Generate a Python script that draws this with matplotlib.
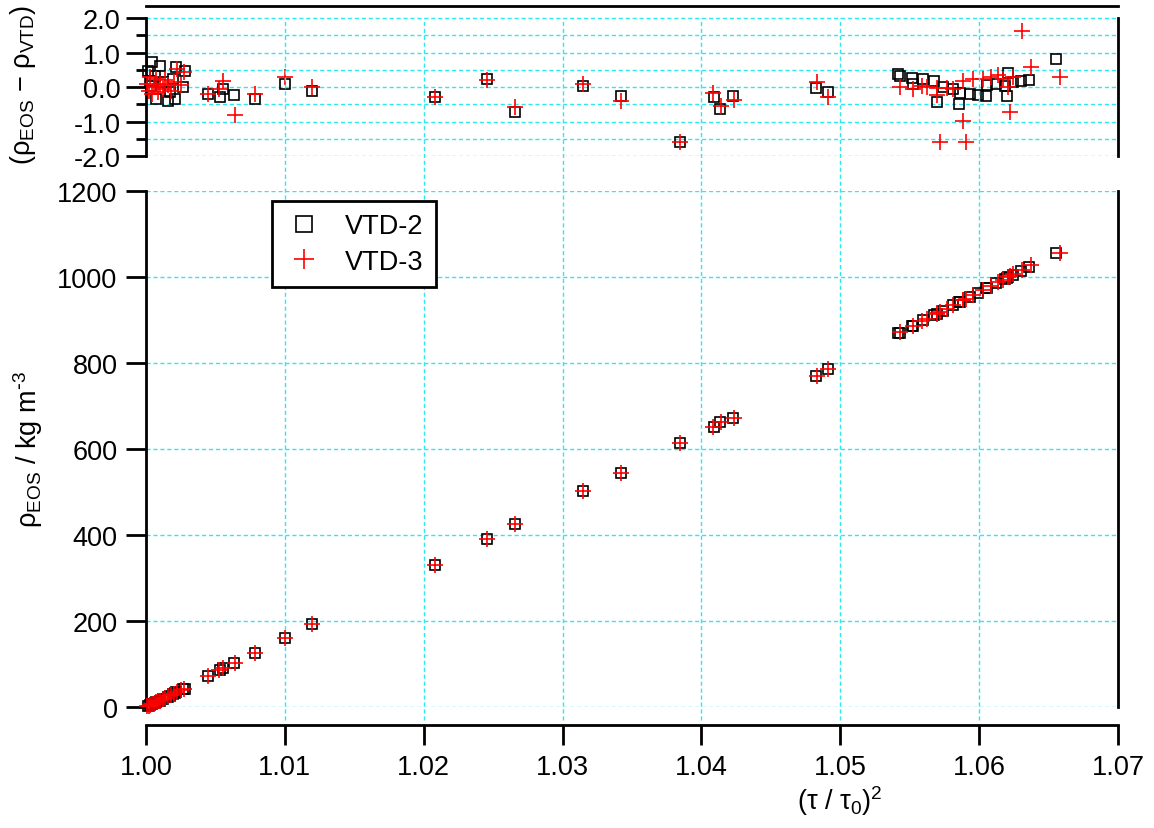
import numpy as np
import matplotlib.pyplot as plt
from matplotlib.lines import Line2D

plt.rcParams['font.family'] = ['Liberation Sans', 'DejaVu Sans']
plt.rcParams['mathtext.default'] = 'regular'
plt.rcParams['axes.unicode_minus'] = False

# VTD-2 (squares)
x2 = [1.00014, 1.00027, 1.00039, 1.00046, 1.00063, 1.00075, 1.00099, 1.00122, 1.00158, 1.00171,
      1.00194, 1.00207, 1.00219, 1.00266, 1.00279,
      1.00446, 1.00532, 1.00557, 1.00636, 1.00785, 1.01001, 1.01193, 1.02078, 1.02455, 1.02659,
      1.03149, 1.03421, 1.03845, 1.04088, 1.04135, 1.04226, 1.04827, 1.04908,
      1.05418, 1.05427, 1.05514, 1.05525, 1.05597, 1.05674, 1.05693, 1.05740, 1.05813, 1.05856,
      1.05860, 1.05932, 1.05992, 1.06052, 1.06060, 1.06124, 1.06184, 1.06200, 1.06208, 1.06243,
      1.06303, 1.06358, 1.06551]
rho2 = [2, 4, 6, 7, 10, 12, 15, 19, 24, 26, 30, 32, 34, 41, 43,
        72, 87, 91, 102, 126, 161, 192, 331, 391, 425, 503, 545, 615, 652, 662, 672, 770, 787,
        869, 870, 885, 887, 899, 911, 914, 922, 934, 941, 942, 954, 964, 974, 975, 986, 996, 998,
        1000, 1005, 1015, 1024, 1055]
res2 = [0.48, 0.19, 0.04, 0.72, 0.33, -0.34, 0.62, 0.14, -0.39, -0.15, 0.24, -0.34, 0.58, 0.00, 0.48,
        -0.20, -0.30, -0.05, -0.22, -0.34, 0.09, -0.10, -0.30, 0.24, -0.73, 0.03, -0.25, -1.59,
        -0.28, -0.64, -0.25, -0.02, -0.13,
        0.38, 0.32, 0.27, 0.09, 0.23, 0.19, -0.42, 0.00, -0.05, -0.49, -0.17, -0.20, -0.23, -0.25,
        0.06, 0.09, 0.04, -0.25, 0.41, 0.14, 0.19, 0.22, 0.82]

# VTD-3 (crosses)
x3 = [1.00010, 1.00020, 1.00030, 1.00040, 1.00055, 1.00070, 1.00085, 1.00100, 1.00120, 1.00140,
      1.00160, 1.00180, 1.00200, 1.00225, 1.00255, 1.00275,
      1.00446, 1.00525, 1.00557, 1.00640, 1.00785, 1.01003, 1.01193, 1.02080, 1.02457, 1.02661,
      1.03149, 1.03424, 1.03847, 1.04087, 1.04142, 1.04232, 1.04829, 1.04914,
      1.05430, 1.05525, 1.05585, 1.05621, 1.05693, 1.05700, 1.05717, 1.05765, 1.05813, 1.05884,
      1.05884, 1.05908, 1.05956, 1.06028, 1.06088, 1.06136, 1.06172, 1.06208, 1.06220, 1.06243,
      1.06310, 1.06374, 1.06580]
rho3 = [2, 3, 5, 6, 8, 11, 13, 15, 19, 22, 25, 28, 31, 35, 39, 42,
        72, 87, 91, 102, 126, 161, 192, 331, 391, 425, 503, 545, 615, 652, 662, 672, 770, 787,
        871, 887, 897, 903, 914, 916, 918, 926, 934, 946, 946, 950, 958, 970, 980, 988, 994, 1000,
        1002, 1006, 1017, 1027, 1055]
res3 = [0.10, -0.10, 0.30, -0.20, 0.00, 0.25, -0.15, 0.10, -0.05, 0.20, 0.05, -0.10, 0.15, 0.53,
        0.05, 0.45,
        -0.20, -0.05, 0.19, -0.81, -0.20, 0.29, 0.00, -0.29, 0.22, -0.59, 0.10, -0.39, -1.59,
        -0.17, -0.56, -0.37, 0.14, -0.30,
        0.00, -0.05, 0.02, 0.00, -0.03, -0.22, -1.60, -0.03, -0.05, 0.19, -0.97, -1.60, 0.24,
        0.24, 0.29, 0.34, 0.24, 0.00, -0.73, 0.29, 1.64, 0.58, 0.29]

xticks = [1.00, 1.01, 1.02, 1.03, 1.04, 1.05, 1.06, 1.07]

gridc = '#30e8f2'
fs = 19.5
lw = 2.0

fig = plt.figure(figsize=(11.54, 8.29), dpi=100)
axt = fig.add_axes([0.1265, 0.8106, 0.8423, 0.1810])
ax = fig.add_axes([0.1265, 0.14596, 0.8423, 0.6224])

sq = dict(marker='s', ms=7.5, mfc='none', mec='black', mew=1.2, ls='none', clip_on=False, zorder=3)
pl = dict(marker='+', ms=11, color='red', mew=1.2, ls='none', clip_on=False, zorder=4)

# residuals panel
axt.plot(x2, res2, **sq)
axt.plot(x3, res3, **pl)
axt.set_xlim(1.0, 1.07)
axt.set_ylim(-2.0, 2.357)
axt.set_yticks([-2, -1, 0, 1, 2])
axt.set_yticks([-1.5, -0.5, 0.5, 1.5], minor=True)
axt.set_yticklabels(['-2.0', '-1.0', '0.0', '1.0', '2.0'])
axt.set_xticks([])
for y in [-2, -1.5, -1, -0.5, 0, 0.5, 1, 1.5, 2]:
    axt.axhline(y, color=gridc, lw=1, ls=(0, (3, 2)), zorder=0)
axt.spines['bottom'].set_visible(False)
axt.spines['left'].set_bounds(-2, 2)
axt.spines['right'].set_bounds(-2, 2)
for s in axt.spines.values():
    s.set_linewidth(lw)
axt.tick_params(axis='y', which='major', direction='out', length=14.5, width=lw, labelsize=fs, pad=4)
axt.tick_params(axis='y', which='minor', direction='out', length=7.5, width=lw)
axt.set_ylabel(r'(ρ$_{EOS}$ − ρ$_{VTD}$)', fontsize=fs)
axt.yaxis.set_label_coords(-0.111, 0.48)

# main panel
ax.plot(x2, rho2, **sq)
ax.plot(x3, rho3, **pl)
ax.set_xlim(1.0, 1.07)
ax.set_ylim(0, 1200)
ax.set_xticks(xticks)
ax.set_xticklabels(['%.2f' % t for t in xticks])
ax.set_yticks(np.arange(0, 1201, 200))
for y in np.arange(0, 1201, 200):
    ax.axhline(y, color=gridc, lw=1, ls=(0, (3, 2)), zorder=0)
# vertical grid runs through both panels
ax.vlines(xticks[1:-1], -0.0246, 1.3345, transform=ax.get_xaxis_transform(),
          colors=gridc, lw=1, linestyles=(0, (3, 2)), clip_on=False, zorder=0)
ax.spines['top'].set_visible(False)
ax.spines['left'].set_bounds(0, 1200)
ax.spines['right'].set_bounds(0, 1200)
ax.spines['bottom'].set_position(('outward', 13))
for s in ax.spines.values():
    s.set_linewidth(lw)
ax.tick_params(direction='out', length=14.5, width=lw, labelsize=fs, pad=6)
ax.set_ylabel(r'ρ$_{EOS}$ / kg m$^{\text{-}3}$', fontsize=fs)
ax.yaxis.set_label_coords(-0.104, 0.5)
ax.set_xlabel(r'(τ / τ$_0$)$^2$', fontsize=fs)
ax.xaxis.set_label_coords(0.714, -0.147)

handles = [Line2D([], [], marker='s', ms=11, mfc='none', mec='black', mew=1.2, ls='none'),
           Line2D([], [], marker='+', ms=14, color='red', mew=1.2, ls='none')]
leg = ax.legend(handles, ['VTD-2', 'VTD-3'], loc='upper left', bbox_to_anchor=(0.1296, 0.9806),
                borderaxespad=0, fancybox=False, fontsize=fs, handlelength=1.5,
                handletextpad=0.75, borderpad=0.45, labelspacing=0.35, framealpha=1)
leg.get_frame().set_edgecolor('black')
leg.get_frame().set_linewidth(lw)

fig.savefig('out.png', dpi=100)
